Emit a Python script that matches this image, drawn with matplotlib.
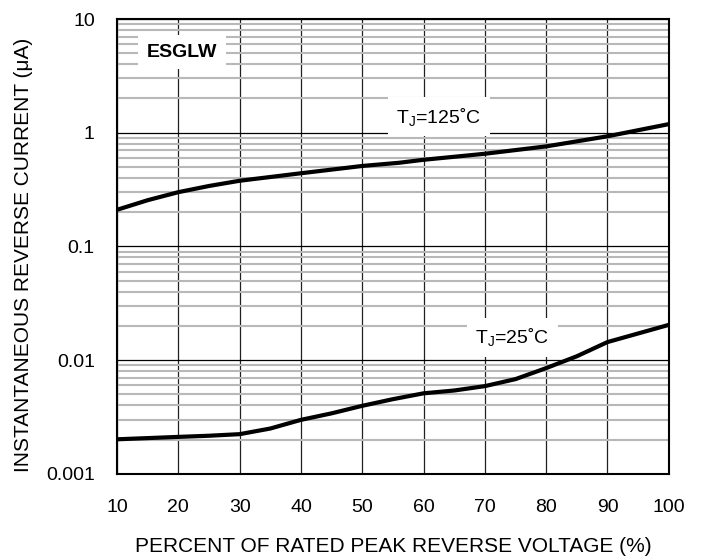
import numpy as np
import matplotlib
matplotlib.use("Agg")
import matplotlib.pyplot as plt
from matplotlib.ticker import FixedLocator, NullFormatter

plt.rcParams['font.family'] = ['Liberation Sans', 'DejaVu Sans']
plt.rcParams['mathtext.default'] = 'regular'

# percent of rated peak reverse voltage
volt_125 = [10, 15, 20, 25, 30, 40, 50, 56, 60, 70, 80, 90, 100]
curr_125 = [0.21, 0.255, 0.30, 0.34, 0.378, 0.44, 0.51, 0.544, 0.578, 0.653, 0.758, 0.93, 1.19]

volt_25 = [10, 20, 25, 30, 35, 40, 45, 50, 55, 60, 65, 70, 75, 80, 85, 90, 100]
curr_25 = [0.00201, 0.00211, 0.00216, 0.00223, 0.0025, 0.00298, 0.0034, 0.00396, 0.00453,
           0.0051, 0.0054, 0.0059, 0.0068, 0.0085, 0.0108, 0.0144, 0.0204]

xticks = [10, 20, 30, 40, 50, 60, 70, 80, 90, 100]
yticks = [0.001, 0.01, 0.1, 1, 10]
ylabels = ['0.001', '0.01', '0.1', '1', '10']

fig = plt.figure(figsize=(7.01, 5.6), dpi=100)
ax = fig.add_axes([0.167, 0.154, 0.787, 0.812])
ax.set_yscale('log')
ax.set_xlim(10, 100)
ax.set_ylim(0.001, 10)

# grid
minor = [m * 10.0 ** e for e in range(-3, 1) for m in range(2, 10)]
ax.yaxis.set_minor_locator(FixedLocator(minor))
ax.yaxis.set_minor_formatter(NullFormatter())
ax.set_yticks(yticks)
ax.set_yticklabels(ylabels)
ax.set_xticks(xticks)
ax.grid(which='minor', axis='y', color='#b8b8b8', linewidth=1.5)
ax.grid(which='major', axis='y', color='black', linewidth=0.9)
ax.grid(which='major', axis='x', color='#202020', linewidth=0.9)
ax.set_axisbelow(True)
ax.tick_params(which='both', length=0, labelsize=14)
ax.tick_params(axis='x', pad=18)
ax.tick_params(axis='y', pad=16)
for s in ax.spines.values():
    s.set_linewidth(1.5)

ax.plot(volt_125, curr_125, color='black', linewidth=3, solid_capstyle='butt')
ax.plot(volt_25, curr_25, color='black', linewidth=3, solid_capstyle='butt')

box = dict(facecolor='white', edgecolor='none', pad=6)
ax.text(20.6, 5.1, 'ESGLW', fontsize=14, fontweight='bold', ha='center', va='center', bbox=box)
ax.text(62.5, 1.38, 'T$_J$=125˚C', fontsize=14, ha='center', va='center', bbox=box)
ax.text(74.5, 0.0158, 'T$_J$=25˚C', fontsize=14, ha='center', va='center', bbox=box)

ax.set_xlabel('PERCENT OF RATED PEAK REVERSE VOLTAGE (%)', fontsize=15, labelpad=15)
ax.set_ylabel('INSTANTANEOUS REVERSE CURRENT (μA)', fontsize=15, va='center')
ax.yaxis.set_label_coords(-0.169, 0.481)

fig.savefig('out.png', dpi=100)
